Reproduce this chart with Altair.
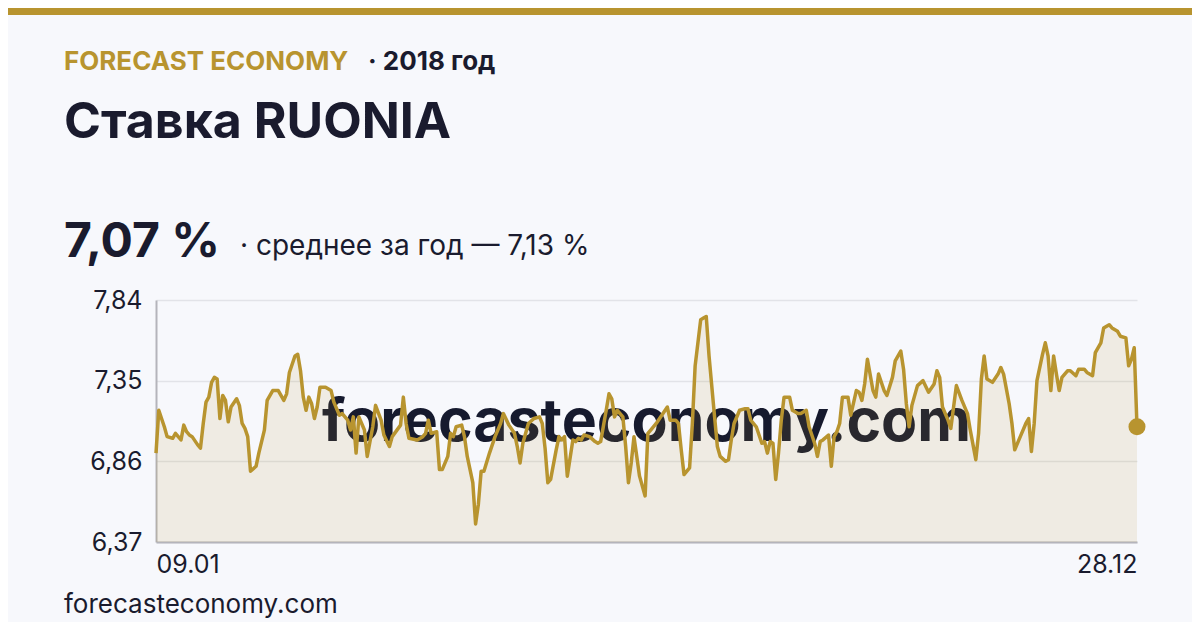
import altair as alt
import pandas as pd

# Day of year (2018) and RUONIA rate, %
seg1_days = [9, 10, 12, 13, 15, 16, 18, 19, 20, 21, 22, 24, 25, 26, 27, 28, 29, 30, 31, 32,
             33, 34, 35, 36, 38, 39, 40, 41, 42, 43, 45, 46, 48, 49, 51, 53, 55, 56, 57, 59,
             60, 61, 62, 63, 64, 65, 66, 67, 68, 70, 72, 73, 75, 76, 78, 79, 80, 81, 82, 84,
             85, 87, 88, 90, 91, 93, 94, 97]
seg1_rate = [6.91, 7.17, 7.07, 7.01, 7.00, 7.03, 6.99, 7.08, 7.04, 7.02, 7.01, 6.96, 6.94, 7.09, 7.22, 7.25, 7.34, 7.37, 7.36, 7.12,
             7.26, 7.23, 7.10, 7.19, 7.24, 7.20, 7.09, 7.06, 7.01, 6.80, 6.83, 6.91, 7.05, 7.23, 7.29, 7.29, 7.23, 7.27, 7.40, 7.50,
             7.51, 7.41, 7.25, 7.17, 7.25, 7.21, 7.12, 7.19, 7.31, 7.31, 7.29, 7.22, 7.14, 7.15, 7.11, 7.05, 7.13, 6.91, 7.13, 7.05,
             6.89, 7.07, 7.20, 7.11, 7.02, 6.95, 7.01, 7.08]

seg2_days = [98, 99, 100, 103, 105, 106, 107, 108, 110, 111, 112, 114, 115, 116, 117, 119, 120, 121, 123, 124,
             125, 126, 127, 129, 131, 133, 134, 136, 138, 139, 140, 141, 143, 145, 147, 148, 149, 150, 151, 153,
             154, 155, 156, 157, 159, 160, 161, 162, 163, 165, 167, 168, 169, 171, 172, 173, 174, 175, 177, 178,
             179, 180, 181]
seg2_rate = [7.25, 7.09, 7.00, 6.99, 7.01, 7.03, 7.11, 7.03, 7.04, 6.81, 6.81, 6.89, 7.03, 7.01, 7.07, 7.08, 7.01, 6.89, 6.73, 6.48,
             6.60, 6.80, 6.80, 6.91, 7.01, 7.09, 7.15, 7.08, 7.03, 6.95, 6.85, 6.97, 7.09, 7.12, 7.13, 7.09, 6.94, 6.73, 6.75, 6.93,
             7.01, 6.99, 7.01, 6.77, 6.99, 6.98, 7.00, 6.99, 7.02, 7.01, 6.98, 6.97, 6.98, 7.17, 7.27, 7.24, 7.13, 7.17, 7.13, 6.95,
             6.73, 6.85, 7.01]

seg3_days = [183, 185, 186, 187, 189, 191, 193, 194, 196, 197, 198, 199, 201, 202, 203, 205, 206, 207, 208, 210,
             211, 212, 214, 215, 216, 217, 219, 221, 222, 223, 225, 227, 228, 229, 230, 231, 232, 233, 234, 235,
             237, 238, 240, 241, 243, 244, 246, 247, 248, 249, 251, 252, 253, 254, 255, 256, 258, 259, 261, 262,
             263, 264, 265, 267, 268, 269]
seg3_rate = [6.77, 6.65, 7.03, 7.05, 7.09, 7.14, 7.19, 7.11, 7.11, 7.09, 6.93, 6.78, 6.82, 7.09, 7.44, 7.72, 7.73, 7.74, 7.50, 7.13,
             6.95, 6.89, 6.86, 6.87, 6.99, 7.09, 7.17, 7.18, 7.18, 7.11, 7.07, 6.97, 6.98, 6.91, 6.98, 6.97, 6.75, 6.91, 7.11, 7.25,
             7.25, 7.17, 7.15, 7.15, 7.17, 7.07, 6.97, 6.89, 6.98, 6.99, 7.02, 6.83, 7.01, 7.04, 7.09, 7.25, 7.25, 7.14, 7.29, 7.28,
             7.23, 7.33, 7.48, 7.29, 7.25, 7.39]

seg4_days = [271, 272, 274, 275, 277, 278, 279, 280, 281, 283, 285, 287, 289, 290, 291, 292, 294, 295, 297, 299,
             301, 302, 304, 305, 306, 307, 308, 310, 312, 313, 314, 316, 317, 318, 320, 322, 323, 324, 325, 326,
             328, 329, 330, 331, 332, 333, 334, 335, 337, 338, 340, 341, 343, 344, 346, 347, 349, 350, 352, 353,
             355, 356, 358, 359, 360, 361, 362]
seg4_rate = [7.29, 7.26, 7.37, 7.47, 7.53, 7.42, 7.21, 7.07, 7.20, 7.32, 7.35, 7.28, 7.33, 7.41, 7.37, 7.19, 7.11, 7.06, 7.32, 7.23,
             7.15, 7.05, 6.87, 7.03, 7.36, 7.50, 7.36, 7.34, 7.39, 7.43, 7.39, 7.21, 7.09, 6.93, 7.01, 7.09, 7.12, 6.92, 7.09, 7.35,
             7.51, 7.58, 7.50, 7.29, 7.50, 7.39, 7.29, 7.37, 7.41, 7.41, 7.38, 7.42, 7.42, 7.40, 7.38, 7.52, 7.58, 7.67, 7.69, 7.67,
             7.65, 7.62, 7.61, 7.44, 7.48, 7.55, 7.07]

y_ticks = [6.37, 6.86, 7.35, 7.84]
x_ticks = [9, 362]

brand = "FORECAST ECONOMY"
period = "· 2018 год"
title = "Ставка RUONIA"
last_value = "7,07 %"
avg_text = "· среднее за год — 7,13 %"
site = "forecasteconomy.com"

days = seg1_days + seg2_days + seg3_days + seg4_days
rates = seg1_rate + seg2_rate + seg3_rate + seg4_rate
df = pd.DataFrame({"day": days, "rate": rates})
last = df.tail(1)

GOLD = "#b8942f"
INK = "#1a1b2e"
BG = "#f7f8fc"
FONT = "Inter"
W, H = 981, 242

x_enc = alt.X(
    "day:Q",
    scale=alt.Scale(domain=[x_ticks[0], x_ticks[-1]], nice=False, zero=False),
    axis=alt.Axis(values=x_ticks,
                  labelExpr="timeFormat(datetime(2018, 0, datum.value), '%d.%m')",
                  labelFlush=True, grid=False, ticks=False, title=None,
                  domainColor="#b4b4bb", domainWidth=2,
                  labelFont=FONT, labelFontSize=25, labelColor=INK, labelPadding=10),
)
y_enc = alt.Y(
    "rate:Q",
    scale=alt.Scale(domain=[y_ticks[0], y_ticks[-1]], nice=False, zero=False),
    axis=alt.Axis(values=y_ticks,
                  labelExpr="replace(format(datum.value, '.2f'), '.', ',')",
                  grid=True, gridColor="#e2e3e8", gridWidth=1.5, ticks=False, title=None,
                  domainColor="#b4b4bb", domainWidth=2,
                  labelFont=FONT, labelFontSize=25, labelColor=INK, labelPadding=14),
)


def text_layer(s, x, y, size, color=INK, weight="normal", align="left", baseline="alphabetic"):
    return alt.Chart(pd.DataFrame({"t": [s]})).mark_text(
        font=FONT, fontSize=size, fontWeight=weight, color=color, align=align, baseline=baseline
    ).encode(text="t:N", x=alt.value(x), y=alt.value(y))


top_bar = alt.Chart(pd.DataFrame({"a": [0]})).mark_rect(color=GOLD).encode(
    x=alt.value(-148), x2=alt.value(1036), y=alt.value(-292), y2=alt.value(-285)
)

watermark = text_layer(site, W / 2, 141, 59, color="#161a2e", weight="bold", align="center")

base = alt.Chart(df)
area = base.mark_area(color=GOLD, opacity=0.12).encode(x=x_enc, y=y_enc, y2=alt.datum(y_ticks[0]))
line = base.mark_line(color=GOLD, strokeWidth=3.5, strokeJoin="round").encode(x="day:Q", y="rate:Q")
dot = alt.Chart(last).mark_circle(color=GOLD, opacity=1, size=290).encode(x="day:Q", y="rate:Q")

chart = alt.layer(
    top_bar,
    text_layer(brand, -92, -230, 26, color=GOLD, weight="bold"),
    text_layer(period, 212, -230, 26, weight="bold"),
    text_layer(title, -92, -162, 50, weight="bold"),
    text_layer(last_value, -92, -43, 48, weight="bold"),
    text_layer(avg_text, 84, -45, 28),
    text_layer(site, -92, 313, 26),
    watermark,
    area,
    line,
    dot,
).properties(
    width=W,
    height=H,
    autosize=alt.AutoSizeParams(type="none"),
    padding={"left": 148, "top": 292, "right": 55, "bottom": 80},
    background=BG,
).configure_view(strokeWidth=0)

chart.save("out.html", embed_options={"renderer": "svg", "actions": False})
